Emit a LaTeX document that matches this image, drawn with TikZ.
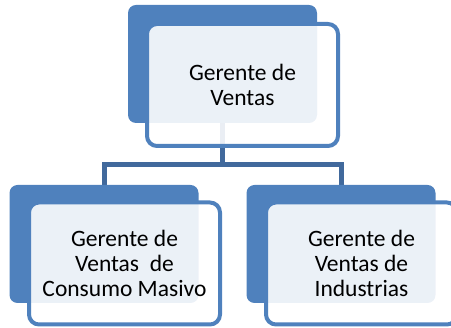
\documentclass[tikz,border=0pt]{standalone}
\usepackage{fontspec}
\setmainfont{Carlito}
\usetikzlibrary{backgrounds, positioning}
\definecolor{boxblue}{HTML}{4F81BD}
\definecolor{linkblue}{HTML}{41699C}

\begin{document}
\begin{tikzpicture}[x=1pt, y=-1pt,
    backbox/.style={fill=boxblue, rounded corners=8pt, minimum width=189pt, minimum height=118pt, inner sep=0pt},
    frontbox/.style={draw=boxblue, line width=4pt, fill=white, fill opacity=0.89, text opacity=1,
      rounded corners=10pt, minimum width=191pt, minimum height=122pt, inner sep=0pt,
      align=center, font=\fontsize{23.5}{25}\selectfont},
    link/.style={draw=linkblue, line width=5pt}]
  \useasboundingbox (0,0) rectangle (451,328);
  % gerente
  \node[backbox] (topback) at (222.5,64) {};
  \node[frontbox] (top) at ([shift={(20,21)}]topback.center) {Gerente de\\Ventas};
  % consumo masivo
  \node[backbox] (leftback) at (104,244) {};
  \node[frontbox] (left) at ([shift={(20.5,19.5)}]leftback.center) {Gerente de\\Ventas~ de\\Consumo Masivo};
  % industrias
  \node[backbox] (rightback) at (341,244) {};
  \node[frontbox] (right) at ([shift={(20.5,19.5)}]rightback.center) {Gerente de\\Ventas de\\Industrias};
  \begin{scope}[on background layer]
    \coordinate (split) at (222.5,165);
    \draw[link] (topback.south) -- (split) -| (leftback.north);
    \draw[link] (split) -| (rightback.north);
  \end{scope}
\end{tikzpicture}
\end{document}
